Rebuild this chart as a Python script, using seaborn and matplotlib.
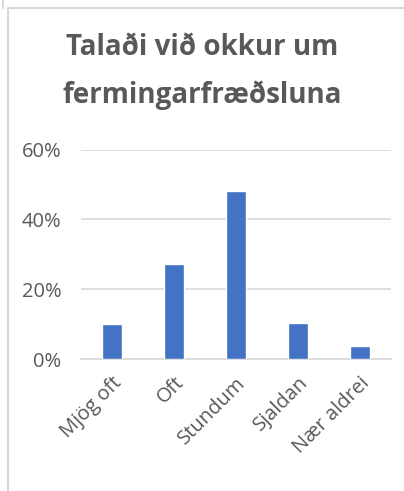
import matplotlib.pyplot as plt
import seaborn as sns
from matplotlib.lines import Line2D
from matplotlib.ticker import FuncFormatter

categories = ["Mjög oft", "Oft", "Stundum", "Sjaldan", "Nær aldrei"]
values = [10.0, 27.1, 48.0, 10.3, 3.8]
yticks = [0, 20, 40, 60]

sns.set_style("white")
plt.rcParams["font.family"] = ["Open Sans", "DejaVu Sans"]

fig = plt.figure(figsize=(4.04, 4.91), dpi=100)
ax = fig.add_axes([0.2005, 0.2688, 0.7665, 0.4267])

sns.barplot(x=categories, y=values, color="#4472C4", width=0.32,
            saturation=1, ax=ax, zorder=3)

ax.set_ylim(0, 60)
ax.set_yticks(yticks)
ax.yaxis.set_major_formatter(FuncFormatter(lambda v, p: f"{v:.0f}%"))
ax.grid(axis="y", color="#d9d9d9", linewidth=1.2, zorder=0)
for s in ["top", "right", "left"]:
    ax.spines[s].set_visible(False)
ax.spines["bottom"].set_color("#d9d9d9")
ax.spines["bottom"].set_linewidth(1.2)
ax.tick_params(axis="both", length=0, labelsize=14.5, labelcolor="#595959")
ax.tick_params(axis="y", pad=14)
ax.tick_params(axis="x", pad=10)
ax.set_xlim(-0.5, 4.5)
plt.setp(ax.get_xticklabels(), rotation=45, ha="right", rotation_mode="anchor")
ax.set_xlabel("")
ax.set_ylabel("")

title_lines = ["Talaði við okkur um", "fermingarfræðsluna"]
for line, ypix in zip(title_lines, [55, 103]):
    fig.text(0.5, 1 - ypix / 491, line, ha="center", va="baseline",
             fontsize=20, fontweight="bold", color="#595959")

# chart frame
frame = dict(color="#d9d9d9", linewidth=1.5, transform=fig.transFigure)
fig.add_artist(Line2D([8 / 404, 8 / 404], [0, 1 - 8 / 491], **frame))
fig.add_artist(Line2D([8 / 404, 1], [1 - 8 / 491, 1 - 8 / 491], **frame))
fig.add_artist(Line2D([2.5 / 404, 2.5 / 404], [1, 1 - 8 / 491], **frame))

fig.savefig("out.png", dpi=100)
